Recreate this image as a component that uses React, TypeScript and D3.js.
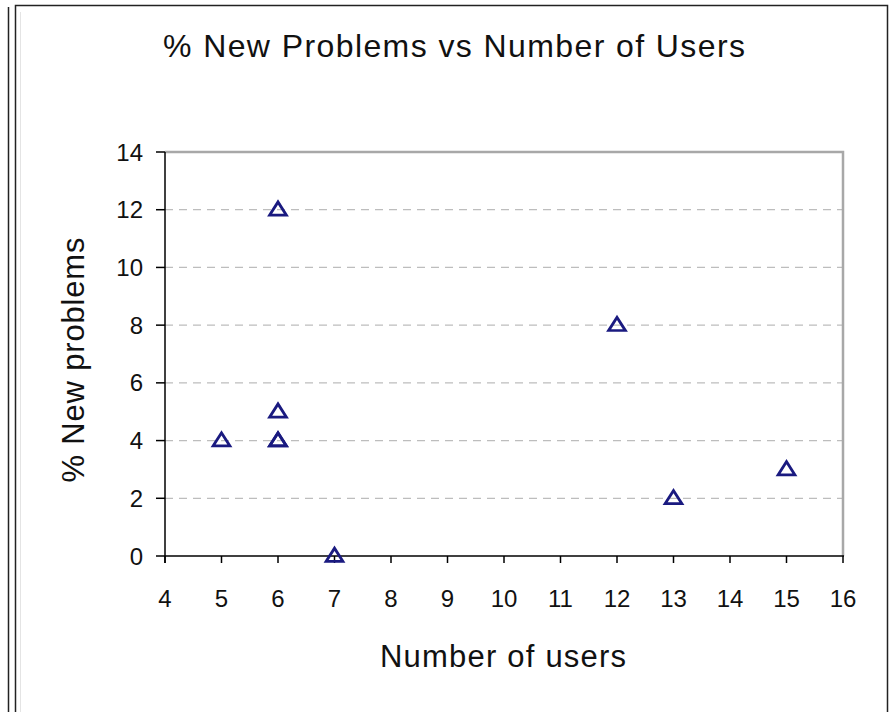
import React from "react";
import * as d3 from "d3";

const users = [5, 6, 6, 6, 6, 7, 12, 13, 15];
const newProblems = [4, 12, 5, 4, 4, 0, 8, 2, 3];
const xTicks = [4, 5, 6, 7, 8, 9, 10, 11, 12, 13, 14, 15, 16];
const yTicks = [0, 2, 4, 6, 8, 10, 12, 14];
const title = "% New Problems vs Number of Users";
const xTitle = "Number of users";
const yTitle = "% New problems";

const W = 891;
const H = 712;
const plot = { left: 165, right: 843, top: 152, bottom: 556 };
const font = "'Liberation Sans', Arial, Helvetica, sans-serif";

export default function App() {
  const x = d3.scaleLinear().domain([4, 16]).range([plot.left, plot.right]);
  const y = d3.scaleLinear().domain([0, 14]).range([plot.bottom, plot.top]);
  const tri = d3.symbol().type(d3.symbolTriangle).size(110);
  const triPath = tri() || "";

  return (
    <svg width={W} height={H} style={{ position: "absolute", left: 0, top: 0, background: "#fff" }}>
      <rect x={0} y={0} width={W} height={H} fill="#fff" />
      {/* frame */}
      <line x1={8.5} y1={7} x2={8.5} y2={H} stroke="#222" strokeWidth={1.5} />
      <path d={`M15.5,${H} V5.5 H887.5 V${H}`} fill="none" stroke="#222" strokeWidth={1.5} />
      <line x1={20.5} y1={12} x2={20.5} y2={H} stroke="#e4e4e4" strokeWidth={1} />

      {/* gridlines */}
      {yTicks.filter((t) => t > 0 && t < 14).map((t) => (
        <line key={"g" + t} x1={plot.left} x2={plot.right} y1={y(t)} y2={y(t)}
          stroke="#bdbdbd" strokeWidth={1.3} strokeDasharray="8,6" />
      ))}

      {/* plot border top/right */}
      <path d={`M${plot.left},${plot.top} H${plot.right} V${plot.bottom}`} fill="none" stroke="#a8a8a8" strokeWidth={2.5} />

      {/* axes */}
      <line x1={plot.left} x2={plot.left} y1={plot.top} y2={plot.bottom + 7} stroke="#000" strokeWidth={1.5} />
      <line x1={plot.left} x2={plot.right + 1} y1={plot.bottom} y2={plot.bottom} stroke="#000" strokeWidth={1.5} />
      {yTicks.map((t) => (
        <g key={"y" + t}>
          <line x1={plot.left - 9} x2={plot.left} y1={y(t)} y2={y(t)} stroke="#000" strokeWidth={1.5} />
          <text x={143} y={y(t)} dy="0.36em" textAnchor="end" fontFamily={font} fontSize={24} fill="#111">{t}</text>
        </g>
      ))}
      {xTicks.map((t) => (
        <g key={"x" + t}>
          <line x1={x(t)} x2={x(t)} y1={plot.bottom} y2={plot.bottom + 7} stroke="#000" strokeWidth={1.5} />
          <text x={x(t)} y={607} textAnchor="middle" fontFamily={font} fontSize={24} fill="#111">{t}</text>
        </g>
      ))}

      {/* points */}
      {users.map((u, i) => (
        <path key={"p" + i} d={triPath}
          transform={`translate(${x(u)},${y(newProblems[i]) + 1}) scale(1.05,0.95)`}
          fill="none" stroke="#1a1a80" strokeWidth={2.8} />
      ))}

      {/* titles */}
      <text x={454} y={57} textAnchor="middle" fontFamily={font} fontSize={32} fill="#111"
        textLength={582} lengthAdjust="spacing">{title}</text>
      <text x={503} y={667} textAnchor="middle" fontFamily={font} fontSize={31} fill="#111"
        textLength={246} lengthAdjust="spacing">{xTitle}</text>
      <text transform={`translate(84,360) rotate(-90)`} textAnchor="middle" fontFamily={font} fontSize={31} fill="#111"
        textLength={245} lengthAdjust="spacing">{yTitle}</text>
    </svg>
  );
}
